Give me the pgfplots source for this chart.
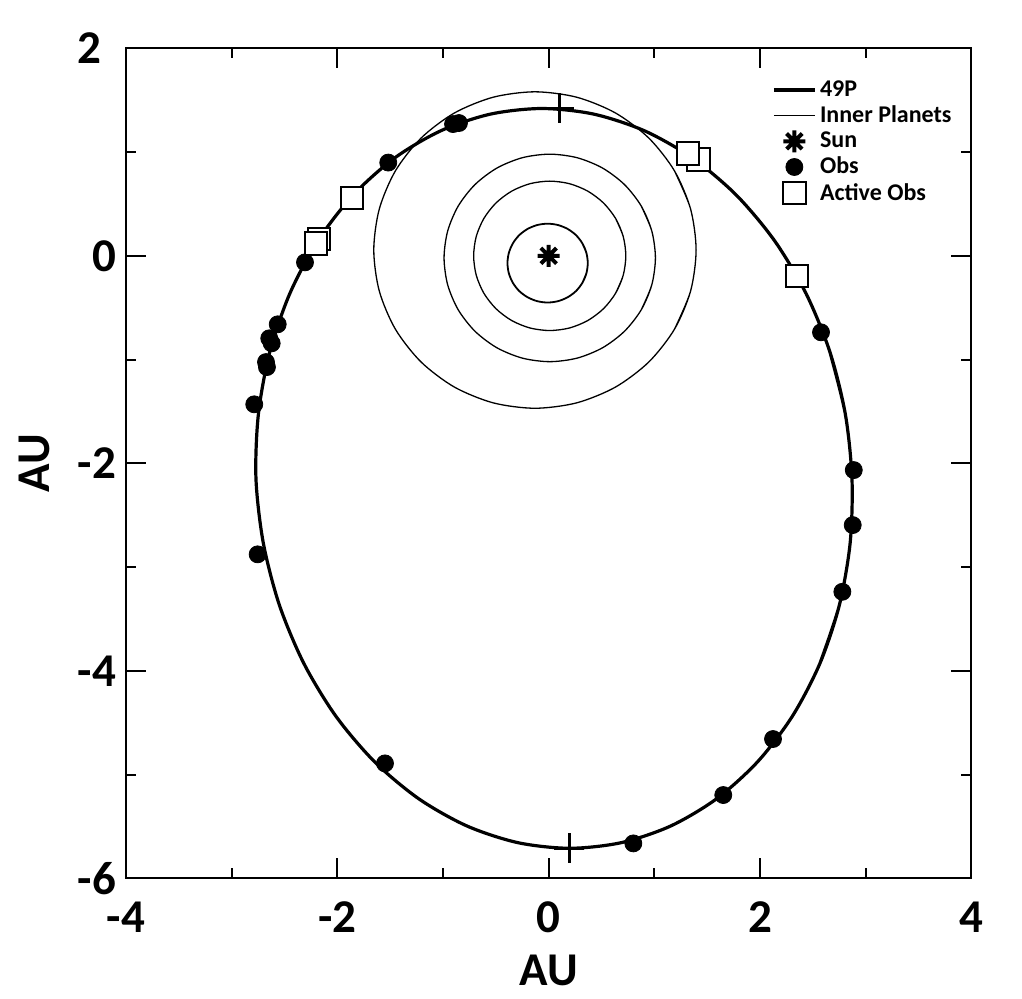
\documentclass[border=0pt]{standalone}
\usepackage{fontspec}
\setmainfont{Carlito}
\usepackage{pgfplots}
\pgfplotsset{compat=1.18}

% eight-armed sun symbol
\pgfdeclareplotmark{burst}{%
  \pgfpathmoveto{\pgfqpoint{-\pgfplotmarksize}{0pt}}%
  \pgfpathlineto{\pgfqpoint{\pgfplotmarksize}{0pt}}%
  \pgfpathmoveto{\pgfqpoint{0pt}{-\pgfplotmarksize}}%
  \pgfpathlineto{\pgfqpoint{0pt}{\pgfplotmarksize}}%
  \pgfpathmoveto{\pgfqpoint{-.7071\pgfplotmarksize}{-.7071\pgfplotmarksize}}%
  \pgfpathlineto{\pgfqpoint{.7071\pgfplotmarksize}{.7071\pgfplotmarksize}}%
  \pgfpathmoveto{\pgfqpoint{-.7071\pgfplotmarksize}{.7071\pgfplotmarksize}}%
  \pgfpathlineto{\pgfqpoint{.7071\pgfplotmarksize}{-.7071\pgfplotmarksize}}%
  \pgfusepathqstroke}

\newcommand{\bigfont}{\bfseries\fontsize{23.5}{28}\selectfont}

\begin{document}
\begin{tikzpicture}
\begin{axis}[
    scale only axis,
    width=422.7pt, height=415pt,
    xmin=-4, xmax=4, ymin=-6, ymax=2,
    xtick={-4,-2,0,2,4}, xticklabels={-4,-2,0,2,4},
    ytick={-6,-4,-2,0,2}, yticklabels={-6,-4,-2,0,2\kern7.5pt},
    minor x tick num=1, minor y tick num=1,
    major tick length=10pt, minor tick length=5pt,
    tick align=inside,
    tick style={line width=1pt, black},
    axis line style={line width=1pt},
    ticklabel style={font=\bigfont},
    xticklabel style={anchor=base, yshift=-27.3pt},
    yticklabel style={anchor=east, inner sep=0pt, xshift=-4.7pt},
    xlabel={AU}, ylabel={AU},
    xlabel style={font=\bigfont, at={(axis description cs:0.5,-0.1286)}, anchor=base, inner sep=0pt},
    ylabel style={font=\bigfont, at={(axis description cs:-0.0899,0.5)}, anchor=south, inner sep=0pt},
    clip=false,
    legend style={draw=none, fill=none, at={(axis description cs:0.764,0.966)}, anchor=north west,
        font=\bfseries\fontsize{12}{14}\selectfont, inner sep=0pt, row sep=-0.4pt,
        nodes={inner sep=1.8pt}},
    legend cell align=left,
    legend image code/.code={\draw[mark repeat=2,mark phase=2,#1] plot coordinates {(0cm,0cm) (0.36cm,0cm) (0.72cm,0cm)};},
]
% orbit of 49P
\addplot[black, line width=1.6pt, smooth, no marks] coordinates {
(2.567,-3.9275) (2.7512,-3.3642) (2.8531,-2.7639)
(2.87,-2.145) (2.8073,-1.5261) (2.661,-0.9258) (2.4351,-0.3625) (2.1368,0.1466)
(1.7753,0.5858) (1.3612,0.9423) (0.9072,1.205) (0.4273,1.3658) (-0.0641,1.42)
(-0.5519,1.3658) (-1.0216,1.205) (-1.4588,0.9423) (-1.8501,0.5858) (-2.1834,0.1466)
(-2.4491,-0.3625) (-2.639,-0.9258) (-2.7469,-1.5261) (-2.77,-2.145)
(-2.7011,-2.7639) (-2.5488,-3.3642) (-2.3172,-3.9275) (-2.0139,-4.4366) (-1.648,-4.8758)
(-1.2303,-5.2323) (-0.7737,-5.495) (-0.2921,-5.6558) (0.1997,-5.71) (0.6871,-5.6558)
(1.1551,-5.495) (1.5897,-5.2323) (1.9774,-4.8758) (2.3063,-4.4366) (2.567,-3.9275)
(2.7512,-3.3642) (2.8531,-2.7639) (2.87,-2.145) (2.8073,-1.5261) (2.661,-0.9258)
};
\addlegendentry{49P}
% inner planets
\addplot[black, line width=0.65pt, smooth, no marks] coordinates {
(0.6335,-0.36) (0.7055,-0.1863)
(0.73,0) (0.7055,0.1863) (0.6335,0.36) (0.5191,0.5091) (0.37,0.6235) (0.1963,0.6955)
(0.01,0.72) (-0.1763,0.6955) (-0.35,0.6235) (-0.4991,0.5091) (-0.6135,0.36) (-0.6855,0.1863)
(-0.71,0) (-0.6855,-0.1863) (-0.6135,-0.36) (-0.4991,-0.5091) (-0.35,-0.6235) (-0.1763,-0.6955)
(0.01,-0.72) (0.1963,-0.6955) (0.37,-0.6235) (0.5191,-0.5091) (0.6335,-0.36) (0.7055,-0.1863)
(0.73,0) (0.7055,0.1863) (0.6335,0.36)
};
\addlegendentry{Inner Planets}
\addplot[black, line width=0.9pt, smooth, no marks, forget plot] coordinates {
(0.319,-0.26) (0.357,-0.168)
(0.37,-0.07) (0.357,0.028) (0.319,0.12) (0.259,0.199) (0.18,0.259) (0.088,0.297)
(-0.01,0.31) (-0.108,0.297) (-0.2,0.259) (-0.279,0.199) (-0.339,0.12) (-0.377,0.028)
(-0.39,-0.07) (-0.377,-0.168) (-0.339,-0.26) (-0.279,-0.339) (-0.2,-0.399) (-0.108,-0.437)
(-0.01,-0.45) (0.088,-0.437) (0.18,-0.399) (0.259,-0.339) (0.319,-0.26) (0.357,-0.168)
(0.37,-0.07) (0.357,0.028) (0.319,0.12)
};
\addplot[black, line width=0.65pt, smooth, no marks, forget plot] coordinates {
(0.876,-0.52) (0.9759,-0.2788)
(1.01,-0.02) (0.9759,0.2388) (0.876,0.48) (0.7171,0.6871) (0.51,0.846) (0.2688,0.9459)
(0.01,0.98) (-0.2488,0.9459) (-0.49,0.846) (-0.6971,0.6871) (-0.856,0.48) (-0.9559,0.2388)
(-0.99,-0.02) (-0.9559,-0.2788) (-0.856,-0.52) (-0.6971,-0.7271) (-0.49,-0.886) (-0.2488,-0.9859)
(0.01,-1.02) (0.2688,-0.9859) (0.51,-0.886) (0.7171,-0.7271) (0.876,-0.52) (0.9759,-0.2788)
(1.01,-0.02) (0.9759,0.2388) (0.876,0.48)
};
\addplot[black, line width=0.65pt, smooth, no marks, forget plot] coordinates {
(1.1907,-0.7065) (1.343,-0.3387)
(1.395,0.056) (1.343,0.4507) (1.1907,0.8185) (0.9483,1.1343) (0.6325,1.3767) (0.2647,1.529)
(-0.13,1.581) (-0.5247,1.529) (-0.8925,1.3767) (-1.2083,1.1343) (-1.4507,0.8185) (-1.603,0.4507)
(-1.655,0.056) (-1.603,-0.3387) (-1.4507,-0.7065) (-1.2083,-1.0223) (-0.8925,-1.2647) (-0.5247,-1.417)
(-0.13,-1.469) (0.2647,-1.417) (0.6325,-1.2647) (0.9483,-1.0223) (1.1907,-0.7065) (1.343,-0.3387)
(1.395,0.056) (1.343,0.4507) (1.1907,0.8185)
};
% Sun
\addplot[only marks, mark=burst, mark size=5.5pt, line width=2pt, black] coordinates {(0,0)};
\addlegendentry{Sun}
% observations
\addplot[only marks, mark=*, mark size=4.25pt, black] coordinates {
(-0.905,1.270) (-0.849,1.280) (-1.518,0.899) (-2.306,-0.063) (-2.564,-0.660)
(-2.644,-0.795) (-2.621,-0.843) (-2.675,-1.024) (-2.666,-1.072) (-2.786,-1.431)
(-2.754,-2.877) (-1.549,-4.892) (0.801,-5.663) (1.652,-5.197) (2.123,-4.657)
(2.577,-0.737) (2.887,-2.065) (2.877,-2.595) (2.779,-3.238)
};
\addlegendentry{Obs}
\addplot[only marks, mark=square*, mark size=5.6pt, black, fill=white, line width=1pt] coordinates {
(1.416,0.930) (1.316,0.988) (2.347,-0.192) (-1.861,0.560) (-2.174,0.162) (-2.202,0.120)
};
\addlegendentry{Active Obs}
% perihelion / aphelion markers
\addplot[only marks, mark=+, mark size=7.5pt, line width=1.5pt, black, forget plot] coordinates {
(0.10,1.422) (0.195,-5.708)
};
% page extent
\path (axis cs:-5.192,2.466) (axis cs:4.479,-7.154);
\end{axis}
\end{tikzpicture}
\end{document}
